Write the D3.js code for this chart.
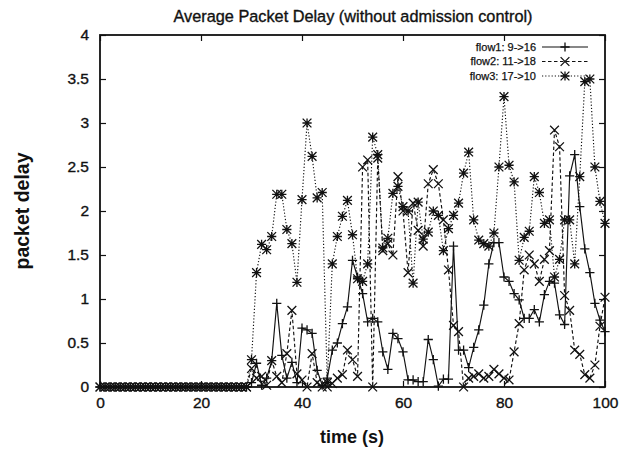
<!DOCTYPE html>
<html>
<head>
<meta charset="utf-8">
<script src="https://cdn.jsdelivr.net/npm/d3@7"></script>
<style>
  body { margin: 0; background: #fff; }
  svg { display: block; }
  text { font-family: "Liberation Sans", Arial, Helvetica, sans-serif; fill: #111; }
  .heavy { stroke: #111; stroke-width: 0.35px; }
</style>
</head>
<body>
<svg id="chart" width="619" height="450"></svg>
<script>
// Simulation time (s), one sample per second
const timeSteps = [
  0,1,2,3,4,5,6,7,8,9,10,11,12,13,14,15,16,17,18,19,
  20,21,22,23,24,25,26,27,28,29,30,31,32,33,34,35,36,37,38,39,
  40,41,42,43,44,45,46,47,48,49,50,51,52,53,54,55,56,57,58,59,
  60,61,62,63,64,65,66,67,68,69,70,71,72,73,74,75,76,77,78,79,
  80,81,82,83,84,85,86,87,88,89,90,91,92,93,94,95,96,97,98,99,100
];

// Average packet delay per flow
const flow1 = [
  0,0,0,0,0,0,0,0,0,0,0,0,0,0,0,0,0,0,0,0,
  0,0,0,0,0,0,0,0,0,0,0.05,0.27,0.02,0.1,0.3,0.95,0.36,0.1,0.28,0.05,
  0.67,0.65,0.61,0.19,0.02,0.1,0.42,0.5,0.72,0.91,1.44,1.25,1.06,0.74,0.78,0.74,0.4,0.2,0.61,0.55,
  0.4,0.08,0.08,0.06,0.06,0.54,0.31,0.01,0.09,0.09,1.6,0.42,0.42,0.22,0.45,0.65,0.93,1.4,1.64,1.64,
  1.25,1.2,1.06,0.99,0.78,0.78,0.88,0.74,1.05,1.2,1.18,0.82,0.71,2.4,2.64,2.05,1.57,1.3,0.95,0.76,0.63
];
const flow2 = [
  0,0,0,0,0,0,0,0,0,0,0,0,0,0,0,0,0,0,0,0,
  0,0,0,0,0,0,0,0,0,0,0.21,0.1,0.12,0.02,0.3,0.12,0.05,0.38,0.87,0.15,
  0.08,0,0.38,0.05,0,0,0.04,0.1,0.14,0.42,0.31,0.12,2.5,2.58,0,2.6,1.55,1.63,1.5,2.39,
  2.0,1.3,2.09,1.78,1.6,2.31,2.47,2.31,1.9,1.33,0.7,0.63,0,0.1,0.12,0.15,0.1,0.12,0.2,0.15,
  0.1,0.08,0.4,0.72,1.33,1.5,1.4,1.2,1.45,1.55,2.92,2.73,1.04,0.87,0.42,0.37,0.14,0.1,0.25,0.69,1.02
];
const flow3 = [
  0,0,0,0,0,0,0,0,0,0,0,0,0,0,0,0,0,0,0,0,
  0,0,0,0,0,0,0,0,0,0,0.31,1.3,1.62,1.56,1.71,2.19,2.19,1.79,1.63,1.19,
  2.13,3.0,2.62,2.15,2.21,0.05,1.4,1.71,1.94,2.12,1.73,1.23,1.2,1.4,2.84,2.64,1.58,1.69,2.2,2.28,
  2.05,2.0,1.18,2.1,1.68,1.76,2.0,1.95,1.55,1.8,1.95,2.09,2.43,2.67,1.9,1.67,1.63,1.6,1.75,2.5,
  3.3,2.52,2.33,1.44,1.7,1.77,2.39,2.21,1.86,1.9,1.25,1.45,1.9,1.9,1.4,2.39,3.47,3.5,2.5,2.11,1.86
];

const seriesNames = ["flow1: 9->16", "flow2: 11->18", "flow3: 17->10"];
const xTicks = [0, 20, 40, 60, 80, 100];
const yTicks = [0, 0.5, 1, 1.5, 2, 2.5, 3, 3.5, 4];

const svg = d3.select("#chart");
const plotLeft = 100, plotRight = 605, plotTop = 35, plotBottom = 387;

const x = d3.scaleLinear().domain([0, 100]).range([plotLeft, plotRight]);
const y = d3.scaleLinear().domain([0, 4]).range([plotBottom, plotTop]);

// gnuplot-style point glyphs drawn as strokes
const R = 4.6;
const plusType = { draw(ctx) { ctx.moveTo(-R, 0); ctx.lineTo(R, 0); ctx.moveTo(0, -R); ctx.lineTo(0, R); } };
const timesType = { draw(ctx) { const r = R * 0.95; ctx.moveTo(-r, -r); ctx.lineTo(r, r); ctx.moveTo(-r, r); ctx.lineTo(r, -r); } };
const starType = { draw(ctx) { plusType.draw(ctx); timesType.draw(ctx); } };

const series = [
  { name: seriesNames[0], values: flow1, dash: null, type: plusType },
  { name: seriesNames[1], values: flow2, dash: "3.5,2.5", type: timesType },
  { name: seriesNames[2], values: flow3, dash: "1.2,2", type: starType }
];

// axes: inward ticks on all four sides
const tickLen = 6;
svg.append("g").attr("transform", `translate(0,${plotBottom})`)
  .call(d3.axisBottom(x).tickValues(xTicks).tickSizeInner(-tickLen).tickSizeOuter(0).tickPadding(10).tickFormat(d3.format("d")))
  .call(g => g.select(".domain").remove())
  .call(g => g.selectAll("text").attr("font-size", 15.5).attr("font-family", null).attr("class", "heavy"));
svg.append("g").attr("transform", `translate(0,${plotTop})`)
  .call(d3.axisTop(x).tickValues(xTicks).tickSizeInner(-tickLen).tickSizeOuter(0).tickFormat(""))
  .call(g => g.select(".domain").remove());
svg.append("g").attr("transform", `translate(${plotLeft},0)`)
  .call(d3.axisLeft(y).tickValues(yTicks).tickSizeInner(-tickLen).tickSizeOuter(0).tickPadding(11).tickFormat(d3.format("~g")))
  .call(g => g.select(".domain").remove())
  .call(g => g.selectAll("text").attr("font-size", 15.5).attr("font-family", null).attr("class", "heavy"));
svg.append("g").attr("transform", `translate(${plotRight},0)`)
  .call(d3.axisRight(y).tickValues(yTicks).tickSizeInner(-tickLen).tickSizeOuter(0).tickFormat(""))
  .call(g => g.select(".domain").remove());
svg.selectAll(".tick line").attr("stroke", "#111").attr("stroke-width", 1.2);

// plot frame
svg.append("rect")
  .attr("x", plotLeft).attr("y", plotTop)
  .attr("width", plotRight - plotLeft).attr("height", plotBottom - plotTop)
  .attr("fill", "none").attr("stroke", "#111").attr("stroke-width", 1.8);

// series lines and markers
const line = d3.line().x((d, i) => x(timeSteps[i])).y(d => y(d));
series.forEach(s => {
  svg.append("path")
    .attr("d", line(s.values))
    .attr("fill", "none").attr("stroke", "#111").attr("stroke-width", 1.15)
    .attr("stroke-dasharray", s.dash);
  svg.append("g").selectAll("path")
    .data(s.values)
    .join("path")
    .attr("transform", (d, i) => `translate(${x(timeSteps[i])},${y(d)})`)
    .attr("d", d3.symbol().type(s.type))
    .attr("fill", "none").attr("stroke", "#111").attr("stroke-width", 1.3);
});

// legend
const legend = svg.append("g");
series.forEach((s, i) => {
  const ly = 47 + i * 14.5;
  legend.append("text").attr("x", 536).attr("y", ly).attr("dy", "0.35em")
    .attr("text-anchor", "end").attr("font-size", 11).attr("class", "heavy").attr("style", "stroke-width:0.25px").text(s.name);
  legend.append("line").attr("x1", 542).attr("x2", 588).attr("y1", ly).attr("y2", ly)
    .attr("stroke", "#111").attr("stroke-width", 1.1).attr("stroke-dasharray", s.dash);
  legend.append("path").attr("transform", `translate(565,${ly})`)
    .attr("d", d3.symbol().type(s.type)())
    .attr("fill", "none").attr("stroke", "#111").attr("stroke-width", 1.3);
});

// titles
svg.append("text").attr("x", 353).attr("y", 22).attr("text-anchor", "middle")
  .attr("font-size", 16.3).attr("class", "heavy").text("Average Packet Delay (without admission control)");
svg.append("text").attr("x", 352).attr("y", 443).attr("text-anchor", "middle")
  .attr("font-size", 18).attr("font-weight", "bold").text("time (s)");
svg.append("text").attr("transform", "translate(29,211) rotate(-90)").attr("text-anchor", "middle")
  .attr("font-size", 19.5).attr("font-weight", "bold").text("packet delay");
</script>
</body>
</html>
